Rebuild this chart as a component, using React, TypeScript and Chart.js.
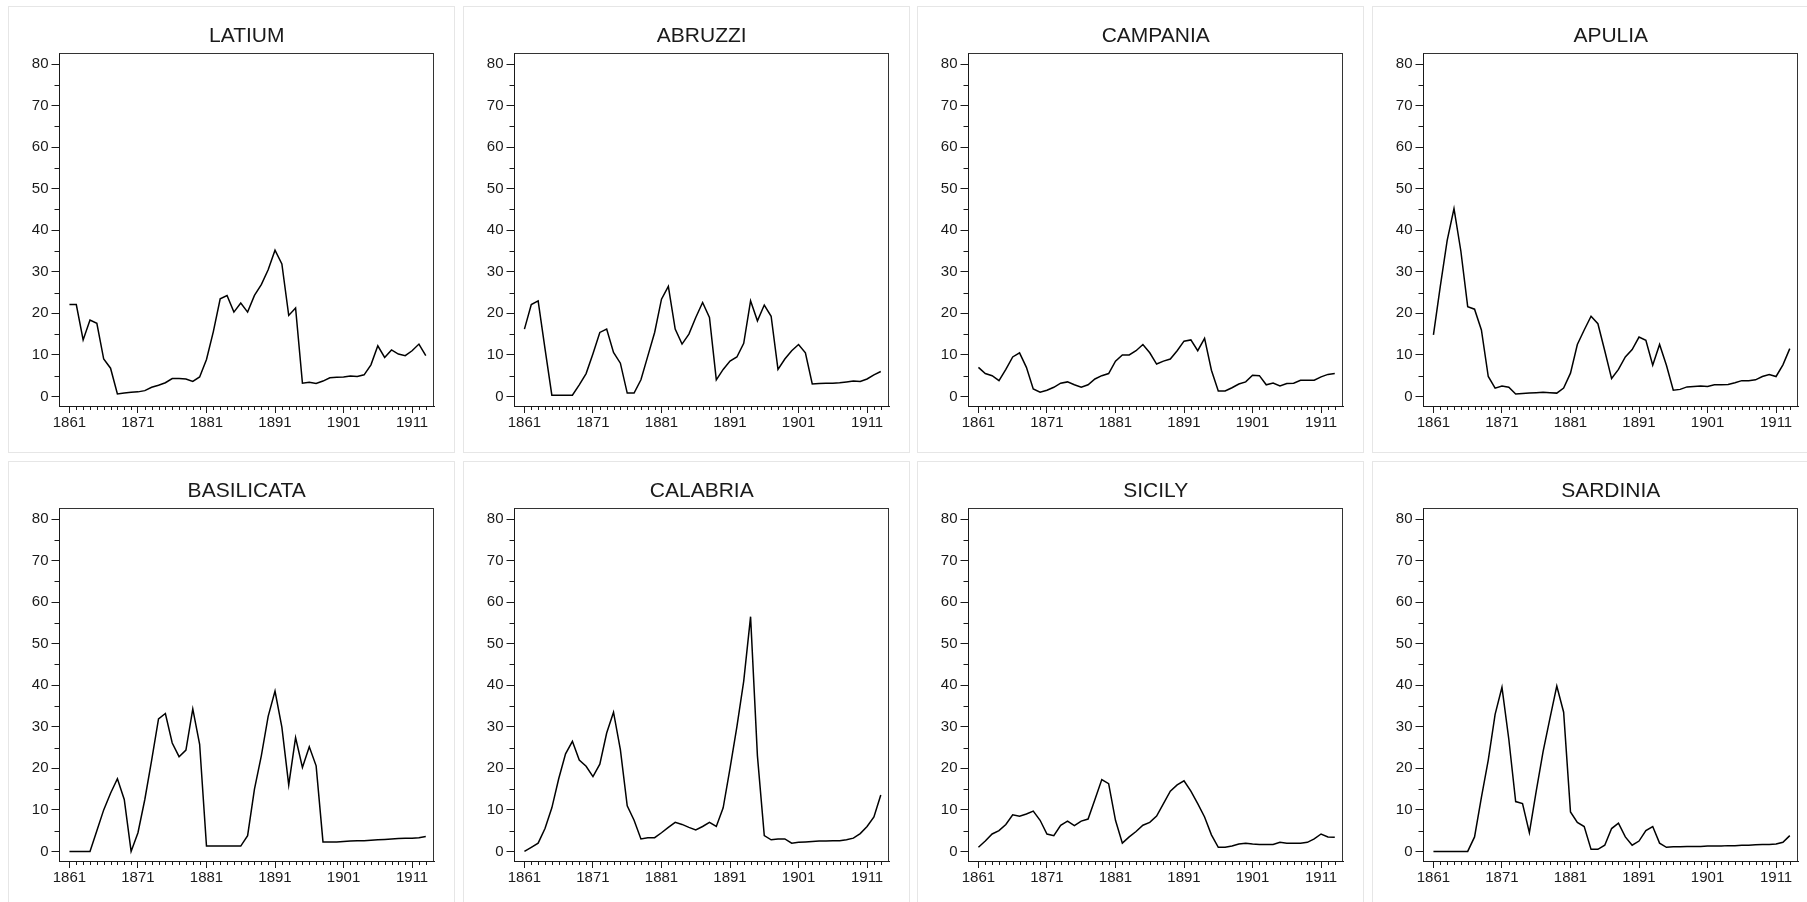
import React, { useEffect, useRef } from "react";
import { Chart, registerables } from "chart.js";

Chart.register(...registerables);

const YEARS = [
  1861, 1862, 1863, 1864, 1865, 1866, 1867, 1868, 1869, 1870,
  1871, 1872, 1873, 1874, 1875, 1876, 1877, 1878, 1879, 1880,
  1881, 1882, 1883, 1884, 1885, 1886, 1887, 1888, 1889, 1890,
  1891, 1892, 1893, 1894, 1895, 1896, 1897, 1898, 1899, 1900,
  1901, 1902, 1903, 1904, 1905, 1906, 1907, 1908, 1909, 1910,
  1911, 1912, 1913,
];

const X_TICKS = [1861, 1871, 1881, 1891, 1901, 1911];
const Y_TICKS = [0, 10, 20, 30, 40, 50, 60, 70, 80];
const Y_MINOR = [5, 15, 25, 35, 45, 55, 65, 75];

const LATIUM = [22.1, 22.1, 13.6, 18.4, 17.6, 9.0, 6.8, 0.6, 0.8, 1.0, 1.1, 1.4, 2.2, 2.7, 3.3, 4.3, 4.3, 4.2, 3.6, 4.7, 8.9, 15.6, 23.5, 24.3, 20.3, 22.5, 20.3, 24.3, 26.9, 30.5, 35.2, 31.9, 19.5, 21.3, 3.2, 3.4, 3.1, 3.7, 4.5, 4.6, 4.7, 4.9, 4.8, 5.2, 7.6, 12.2, 9.4, 11.2, 10.2, 9.8, 11.0, 12.6, 9.8];
const ABRUZZI = [16.2, 22.1, 23.0, 11.5, 0.3, 0.3, 0.3, 0.3, 2.8, 5.5, 10.3, 15.4, 16.2, 10.6, 8.0, 0.8, 0.8, 4.0, 9.7, 15.4, 23.4, 26.5, 16.2, 12.6, 15.0, 19.0, 22.6, 19.0, 4.0, 6.5, 8.5, 9.5, 12.8, 23.0, 18.2, 22.0, 19.3, 6.5, 9.0, 11.0, 12.5, 10.5, 3.0, 3.1, 3.2, 3.2, 3.3, 3.5, 3.7, 3.6, 4.2, 5.2, 6.0];
const CAMPANIA = [7.0, 5.5, 5.0, 3.8, 6.5, 9.5, 10.5, 7.0, 1.8, 1.0, 1.5, 2.2, 3.2, 3.5, 2.8, 2.2, 2.8, 4.2, 5.0, 5.5, 8.5, 10.0, 10.0, 11.0, 12.5, 10.5, 7.8, 8.5, 9.0, 11.0, 13.3, 13.6, 11.0, 14.0, 6.3, 1.3, 1.3, 2.1, 3.0, 3.5, 5.1, 5.0, 2.8, 3.2, 2.5, 3.1, 3.2, 3.9, 3.9, 3.9, 4.7, 5.3, 5.5];
const APULIA = [14.8, 26.5, 37.5, 45.2, 35.0, 21.6, 21.0, 16.0, 4.8, 2.0, 2.5, 2.2, 0.6, 0.7, 0.8, 0.9, 1.0, 0.9, 0.8, 2.0, 5.6, 12.5, 16.0, 19.3, 17.5, 11.0, 4.3, 6.5, 9.5, 11.3, 14.3, 13.5, 7.5, 12.5, 7.5, 1.5, 1.7, 2.3, 2.4, 2.5, 2.4, 2.8, 2.8, 2.9, 3.3, 3.8, 3.8, 4.0, 4.8, 5.3, 4.8, 7.6, 11.5];
const BASILICATA = [0, 0, 0, 0, 5.0, 10.0, 14.0, 17.5, 12.5, 0, 4.5, 12.5, 22.0, 31.9, 33.2, 26.1, 22.8, 24.4, 34.3, 25.8, 1.3, 1.3, 1.3, 1.3, 1.3, 1.3, 3.8, 15.0, 23.0, 32.5, 38.6, 29.9, 16.0, 27.4, 20.2, 25.2, 20.6, 2.3, 2.3, 2.3, 2.4, 2.5, 2.6, 2.6, 2.7, 2.8, 2.9, 3.0, 3.1, 3.2, 3.2, 3.3, 3.6];
const CALABRIA = [0, 1.0, 2.0, 5.5, 10.5, 17.5, 23.5, 26.5, 22.0, 20.5, 18.0, 21.0, 28.5, 33.5, 24.5, 11.0, 7.5, 3.0, 3.3, 3.3, 4.5, 5.8, 7.0, 6.5, 5.8, 5.2, 6.0, 7.0, 6.0, 10.5, 20.0, 30.0, 41.0, 56.5, 23.0, 3.8, 2.8, 3.0, 3.0, 2.0, 2.2, 2.3, 2.4, 2.5, 2.5, 2.6, 2.6, 2.8, 3.2, 4.3, 6.0, 8.3, 13.6];
const SICILY = [1.0, 2.5, 4.2, 5.0, 6.5, 8.8, 8.5, 9.0, 9.7, 7.5, 4.2, 3.8, 6.3, 7.3, 6.2, 7.3, 7.8, 12.5, 17.3, 16.3, 7.5, 2.0, 3.5, 4.8, 6.3, 7.0, 8.5, 11.5, 14.5, 16.0, 17.0, 14.5, 11.5, 8.3, 4.0, 1.0, 1.0, 1.3, 1.8, 2.0, 1.8, 1.7, 1.7, 1.7, 2.2, 2.0, 2.0, 2.0, 2.2, 3.0, 4.2, 3.5, 3.4];
const SARDINIA = [0, 0, 0, 0, 0, 0, 3.5, 13.0, 22.0, 33.0, 39.5, 27.0, 12.0, 11.5, 4.5, 14.5, 24.0, 32.0, 39.8, 33.5, 9.5, 7.0, 6.0, 0.5, 0.5, 1.5, 5.5, 6.8, 3.5, 1.5, 2.5, 5.0, 6.0, 2.0, 1.0, 1.1, 1.1, 1.2, 1.2, 1.2, 1.3, 1.3, 1.3, 1.4, 1.4, 1.5, 1.5, 1.6, 1.7, 1.7, 1.8, 2.2, 3.8];

const TITLES = ["LATIUM", "ABRUZZI", "CAMPANIA", "APULIA", "BASILICATA", "CALABRIA", "SICILY", "SARDINIA"];
const SERIES = [LATIUM, ABRUZZI, CAMPANIA, APULIA, BASILICATA, CALABRIA, SICILY, SARDINIA];

const FONT = '"Liberation Sans", Arial, Helvetica, sans-serif';
const INK = "#1a1a1a";
const CANVAS_W = 445;
const CANVAS_H = 445;

const panelDecor = {
  id: "panelDecor",
  afterDraw(chart: any, _args: any, opts: any) {
    const { ctx, chartArea: a, scales } = chart;
    const x = scales.x;
    const y = scales.y;
    ctx.save();
    ctx.strokeStyle = "#333";
    ctx.lineWidth = 1;
    ctx.beginPath();
    ctx.moveTo(a.left, a.top + 0.5);
    ctx.lineTo(a.right, a.top + 0.5);
    ctx.moveTo(a.right - 0.5, a.top);
    ctx.lineTo(a.right - 0.5, a.bottom);
    ctx.stroke();
    ctx.strokeStyle = INK;
    ctx.beginPath();
    for (const yr of YEARS) {
      if (X_TICKS.includes(yr)) continue;
      const px = Math.round(x.getPixelForValue(yr)) + 0.5;
      ctx.moveTo(px, a.bottom);
      ctx.lineTo(px, a.bottom + 4);
    }
    for (const v of Y_MINOR) {
      const py = Math.round(y.getPixelForValue(v)) + 0.5;
      ctx.moveTo(a.left - 5, py);
      ctx.lineTo(a.left, py);
    }
    ctx.stroke();
    ctx.fillStyle = INK;
    ctx.font = `21px ${FONT}`;
    ctx.textAlign = "center";
    ctx.textBaseline = "alphabetic";
    ctx.fillText(opts.title, (a.left + a.right) / 2, 35);
    ctx.restore();
  },
};

function Panel({ title, values, left, top }: { title: string; values: number[]; left: number; top: number }) {
  const ref = useRef<HTMLCanvasElement>(null);
  useEffect(() => {
    const chart = new Chart(ref.current as HTMLCanvasElement, {
      type: "line",
      data: {
        datasets: [
          {
            data: YEARS.map((yr, i) => ({ x: yr, y: values[i] })),
            borderColor: "#000",
            borderWidth: 1.5,
            pointRadius: 0,
            tension: 0,
            fill: false,
          },
        ],
      },
      options: {
        responsive: false,
        animation: false,
        events: [],
        layout: { padding: { left: 0, top: 46, right: 20, bottom: 0 } },
        plugins: {
          legend: { display: false },
          tooltip: { enabled: false },
          title: { display: false },
          panelDecor: { title },
        } as any,
        scales: {
          x: {
            type: "linear",
            min: 1859.55,
            max: 1914.2,
            afterBuildTicks: (s: any) => {
              s.ticks = X_TICKS.map((v) => ({ value: v }));
            },
            afterFit: (s: any) => {
              s.height = 46;
            },
            grid: { display: true, drawOnChartArea: false, drawTicks: true, tickLength: 7, color: INK, lineWidth: 1 },
            border: { display: true, color: INK, width: 1 },
            ticks: {
              callback: (v: any) => String(v),
              font: { family: FONT, size: 15 },
              color: INK,
              padding: 1,
              maxRotation: 0,
              autoSkip: false,
            },
          },
          y: {
            type: "linear",
            min: -2.3,
            max: 82.65,
            afterBuildTicks: (s: any) => {
              s.ticks = Y_TICKS.map((v) => ({ value: v }));
            },
            afterFit: (s: any) => {
              s.width = 50.5;
            },
            grid: { display: true, drawOnChartArea: false, drawTicks: true, tickLength: 8, color: INK, lineWidth: 1 },
            border: { display: true, color: INK, width: 1 },
            ticks: {
              callback: (v: any) => String(v),
              font: { family: FONT, size: 15 },
              color: INK,
              padding: 3,
              autoSkip: false,
            },
          },
        },
      },
      plugins: [panelDecor],
    } as any);
    return () => chart.destroy();
  }, [title, values]);
  return (
    <div
      style={{
        position: "absolute",
        left,
        top,
        width: CANVAS_W + 2,
        height: CANVAS_H + 2,
        border: "1px solid #e6e6e6",
        boxSizing: "border-box",
        background: "#fff",
      }}
    >
      <canvas ref={ref} width={CANVAS_W} height={CANVAS_H} style={{ display: "block" }} />
    </div>
  );
}

export default function App() {
  return (
    <div style={{ position: "fixed", inset: 0, overflow: "hidden", background: "#fff" }}>
      {TITLES.map((t, i) => (
        <Panel
          key={t}
          title={t}
          values={SERIES[i]}
          left={8 + (i % 4) * 454.5}
          top={6 + Math.floor(i / 4) * 455}
        />
      ))}
    </div>
  );
}
